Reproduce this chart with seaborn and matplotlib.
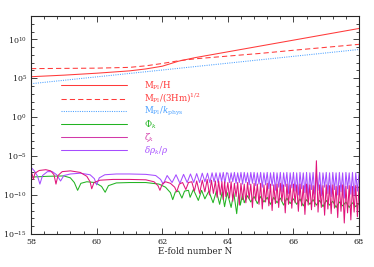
import numpy as np
import pandas as pd
import matplotlib
matplotlib.use('Agg')
import matplotlib.pyplot as plt
import matplotlib.ticker as ticker
from matplotlib.lines import Line2D
import seaborn as sns

# ---- data (log10 values) ----
N_TOP = [58, 59, 60, 61, 61.5, 62, 62.5, 63, 64, 65, 66, 67, 68]
LOG_MPL_H = [5.2, 5.4, 5.65, 5.95, 6.2, 6.55, 7.2, 7.65, 8.4, 9.15, 9.9, 10.65, 11.4]
LOG_MPL_3HM = [6.24, 6.27, 6.3, 6.4, 6.6, 6.9, 7.25, 7.5, 7.85, 8.2, 8.6, 8.98, 9.36]

N_KPHYS = [58, 59, 60, 61, 62, 63, 64, 65, 66, 67, 68]
LOG_MPL_KPHYS = [4.3, 4.74, 5.18, 5.62, 6.06, 6.5, 6.94, 7.38, 7.82, 8.26, 8.7]

# Phi_k, sparse part
N_PHI = [58.0, 58.5, 59.0, 59.2, 59.32, 59.42, 59.52, 59.7, 59.95, 60.15, 60.26, 60.36,
         60.6, 61.0, 61.5, 61.9, 62.1, 62.25, 62.32, 62.4, 62.5, 62.6, 62.68, 62.8,
         62.85, 62.95, 63.1, 63.2, 63.3, 63.42, 63.55, 63.65, 63.75, 63.83, 63.9, 63.98,
         64.1, 64.18, 64.27, 64.33, 64.38, 64.45, 64.5]
LOG_PHI = [-7.7, -7.6, -7.55, -7.8, -8.4, -9.4, -8.5, -8.3, -8.4, -8.9, -9.65, -8.8,
           -8.45, -8.4, -8.4, -8.6, -9.0, -9.7, -10.6, -9.6, -9.5, -10.4, -9.5, -9.4,
           -10.3, -9.3, -10.7, -9.4, -10.5, -9.5, -11.0, -9.5, -11.2, -9.6, -11.5, -9.7,
           -11.6, -9.7, -12.4, -9.8, -11.3, -9.9, -11.0]
# Phi_k, dense part (64.6 .. 68.0, every 0.1)
N_PHI_DENSE = (64.6, 68.0)
LOG_PHI_DENSE = [-10.1, -10.9, -10.2, -11.1, -10.2, -10.9, -10.3, -11.2, -10.3, -11.0,
                 -10.4, -11.3, -10.4, -11.1, -10.5, -11.2, -10.5, -11.4, -10.6, -11.2,
                 -10.6, -11.3, -10.7, -11.5, -10.7, -11.3, -10.8, -11.6, -10.9, -11.4,
                 -10.9, -11.6, -11.0, -11.5, -11.1]

# zeta_k, sparse part
N_ZETA = [58.0, 58.04, 58.07, 58.12, 58.25, 58.45, 58.6, 58.7, 58.76, 58.82, 58.95,
          59.2, 59.5, 59.7, 59.8, 59.85, 59.92, 60.1, 60.5, 61.0, 61.5, 61.75, 61.87,
          61.93, 62.0, 62.1, 62.25, 62.38, 62.44, 62.52, 62.62, 62.72, 62.8, 62.9,
          62.98, 63.05, 63.14, 63.22, 63.3, 63.37, 63.44, 63.5, 63.56, 63.62, 63.67,
          63.72, 63.77, 63.82, 63.86, 63.9, 63.94]
LOG_ZETA = [-7.0, -7.4, -8.0, -7.2, -6.85, -6.75, -6.9, -7.4, -8.6, -7.5, -7.0,
            -6.9, -7.1, -7.6, -8.3, -9.2, -8.4, -8.1, -8.0, -8.0, -8.05, -8.3, -8.8,
            -9.4, -8.6, -8.3, -8.5, -9.0, -9.6, -8.6, -8.4, -9.3, -8.4, -8.3,
            -9.5, -8.2, -9.8, -8.1, -9.6, -8.0, -10.0, -8.1, -9.8, -8.2, -10.3,
            -8.2, -10.0, -8.3, -10.6, -8.3, -10.2]
# zeta_k, dense part (64.0 .. 68.0, every 0.05)
N_ZETA_DENSE = (64.0, 68.0)
LOG_ZETA_DENSE = [-8.4, -10.4, -8.3, -10.8, -8.5, -10.2, -8.4, -11.3, -8.5, -10.6,
                  -8.6, -11.0, -8.4, -10.5, -8.6, -11.6, -8.5, -10.7, -8.6, -11.2,
                  -8.5, -11.8, -8.7, -10.9, -8.5, -11.4, -8.6, -12.0, -8.7, -11.1,
                  -8.6, -11.6, -8.5, -10.8, -8.7, -12.3, -8.6, -11.2, -8.7, -11.7,
                  -8.6, -11.0, -8.7, -12.1, -8.6, -11.4, -8.8, -12.5, -8.6, -11.3,
                  -8.7, -11.9, -8.8, -11.5, -5.6, -12.2, -8.7, -11.6, -8.8, -12.6,
                  -8.7, -11.8, -8.8, -12.4, -8.7, -11.7, -8.9, -12.9, -8.8, -12.1,
                  -8.7, -13.6, -8.9, -12.3, -8.8, -13.2, -8.9, -12.2, -8.8, -12.8,
                  -8.9]

# delta rho_k / rho, sparse part
N_DRHO = [58.0, 58.1, 58.2, 58.27, 58.35, 58.5, 58.65, 58.78, 58.9, 59.0, 59.2, 59.5,
          59.8, 59.93, 60.0, 60.08, 60.25, 60.6, 61.0, 61.5, 61.8, 61.95, 62.03, 62.15,
          62.3, 62.42, 62.54, 62.65, 62.76, 62.86, 62.96, 63.05, 63.14, 63.22, 63.3,
          63.38, 63.45, 63.52, 63.58, 63.64, 63.7, 63.76, 63.81, 63.86, 63.91, 63.96]
LOG_DRHO = [-6.45, -6.9, -7.6, -8.6, -7.5, -7.0, -7.0, -7.4, -8.2, -7.5, -7.3, -7.2,
            -7.4, -7.9, -8.7, -7.8, -7.4, -7.3, -7.3, -7.35, -7.5, -8.0, -8.6, -7.5,
            -8.4, -7.4, -8.5, -7.35, -8.4, -7.3, -8.4, -7.25, -8.4, -7.2, -8.3,
            -7.2, -8.4, -7.15, -8.3, -7.15, -8.4, -7.15, -8.3, -7.1, -8.5, -7.15]
# delta rho_k / rho, dense part (64.0 .. 68.0, every 0.05)
N_DRHO_DENSE = (64.0, 68.0)
LOG_DRHO_DENSE = [-7.2, -8.4, -7.15, -8.3, -7.1, -8.5, -7.15, -8.4, -7.1, -8.6,
                  -7.1, -8.4, -7.15, -8.7, -7.1, -8.5, -7.1, -8.8, -7.15, -8.6,
                  -7.1, -9.0, -7.15, -8.7, -7.1, -9.2, -7.15, -8.8, -7.1, -9.4,
                  -7.15, -9.0, -7.1, -9.6, -7.15, -8.9, -7.1, -9.8, -7.15, -9.1,
                  -7.1, -9.5, -7.15, -10.0, -7.1, -9.2, -7.15, -9.7, -7.1, -10.3,
                  -7.15, -9.3, -7.1, -9.9, -7.15, -9.4, -7.1, -10.1, -7.15, -9.0,
                  -7.1, -9.8, -7.15, -10.2, -7.1, -9.3, -7.15, -10.0, -7.1, -9.6,
                  -7.15, -10.4, -7.1, -9.2, -7.15, -9.9, -7.1, -10.1, -7.15, -9.5,
                  -7.2]

RED = '#ff3a3a'
BLUE = '#4aa0ff'
GREEN = '#22b322'
PINK = '#e0147a'
PINK_LEG = '#d23aa8'
PURPLE = '#a64dff'

DASH = (0, (5, 3))
DOT = (0, (1, 1.2))


def series(n, logv, dense=None, dense_vals=None):
    x = list(n)
    y = list(logv)
    if dense is not None:
        x += list(np.linspace(dense[0], dense[1], len(dense_vals)))
        y += list(dense_vals)
    return pd.DataFrame({'N': x, 'val': 10.0 ** np.array(y)})


def main() -> None:
    sns.set_style('ticks')
    plt.rcParams['font.family'] = ['DejaVu Serif']
    plt.rcParams['mathtext.fontset'] = 'dejavuserif'

    fig = plt.figure(figsize=(3.74, 2.67), dpi=100)
    ax = fig.add_axes([0.083, 0.124, 0.877, 0.816])

    lw = 0.75
    curves = [
        (series(N_TOP, LOG_MPL_H), RED, '-'),
        (series(N_TOP, LOG_MPL_3HM), RED, DASH),
        (series(N_KPHYS, LOG_MPL_KPHYS), BLUE, DOT),
        (series(N_PHI, LOG_PHI, N_PHI_DENSE, LOG_PHI_DENSE), GREEN, '-'),
        (series(N_DRHO, LOG_DRHO, N_DRHO_DENSE, LOG_DRHO_DENSE), PURPLE, '-'),
        (series(N_ZETA, LOG_ZETA, N_ZETA_DENSE, LOG_ZETA_DENSE), PINK, '-'),
    ]
    for d, c, ls in curves:
        sns.lineplot(data=d, x='N', y='val', ax=ax, color=c, lw=lw, sort=False,
                     linestyle=ls)

    texts = [r'M$_{\rm Pl}$/H', r'M$_{\rm Pl}$/(3Hm)$^{1/2}$',
             r'M$_{\rm Pl}$/$k_{\rm phys}$', r'$\Phi_k$', r'$\zeta_k$',
             r'$\delta\rho_k/\rho$']
    lcolors = [RED, RED, BLUE, GREEN, PINK_LEG, PURPLE]
    lstyles = ['-', DASH, DOT, '-', '-', '-']
    handles = [Line2D([], [], color=c, lw=lw, linestyle=ls)
               for c, ls in zip(lcolors, lstyles)]
    leg = ax.legend(handles, texts, loc='upper left',
                    bbox_to_anchor=(0.09, 0.71), frameon=False, fontsize=6.2,
                    handlelength=7.7, handletextpad=1.95, labelspacing=0.0,
                    borderpad=0, borderaxespad=0)
    for t, c in zip(leg.get_texts(), lcolors):
        t.set_color(c)

    ax.set_yscale('log')
    ax.set_xlim(58, 68)
    ax.set_ylim(1e-15, 1e13)
    ax.xaxis.set_major_locator(ticker.MultipleLocator(2))
    ax.xaxis.set_minor_locator(ticker.MultipleLocator(0.4))
    ax.yaxis.set_major_locator(ticker.FixedLocator([10.0 ** k for k in range(-15, 11, 5)]))
    ax.yaxis.set_minor_locator(ticker.FixedLocator([10.0 ** k for k in range(-15, 14)]))
    ax.yaxis.set_minor_formatter(ticker.NullFormatter())
    ax.yaxis.set_major_formatter(ticker.LogFormatterMathtext())
    ax.tick_params(which='both', direction='in', top=True, right=True, width=0.6,
                   labelsize=5.8, pad=3)
    ax.tick_params(which='major', length=4)
    ax.tick_params(which='minor', length=2)
    for s in ax.spines.values():
        s.set_linewidth(0.8)
    ax.set_xlabel('E-fold number N', fontsize=6.3, labelpad=1)
    ax.set_ylabel('')

    fig.savefig('out.png', dpi=100)


if __name__ == '__main__':
    main()
